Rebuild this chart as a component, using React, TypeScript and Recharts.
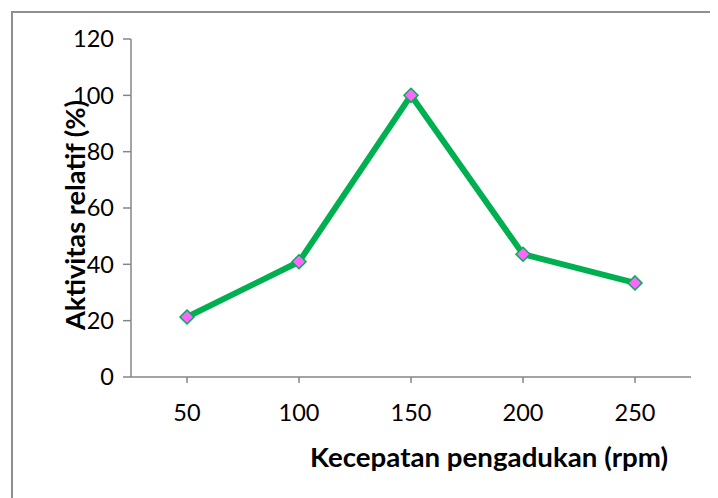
import { LineChart, Line, XAxis, YAxis } from 'recharts';

const speeds = ['50', '100', '150', '200', '250'];
const activity = [21.3, 40.9, 100, 43.6, 33.4];
const yTicks = [0, 20, 40, 60, 80, 100, 120];

const data = speeds.map((rpm, i) => ({ rpm, value: activity[i] }));

const FONT = 'Lato, "Open Sans", sans-serif';
const AXIS_GREY = '#868686';

// pink diamond marker with a green rim
const Diamond = (props: any) => {
  const { cx, cy } = props;
  if (cx == null || cy == null) return null;
  const r = 7;
  return (
    <polygon
      points={`${cx},${cy - r} ${cx + r},${cy} ${cx},${cy + r} ${cx - r},${cy}`}
      fill="#FF66FF"
      stroke="#00B050"
      strokeWidth={1.5}
    />
  );
};

// axis titles sit at fixed spots, Excel style
const YTitle = () => (
  <text
    x={67}
    y={207}
    transform="rotate(-90, 67, 207)"
    textAnchor="middle"
    dominantBaseline="central"
    fontFamily={FONT}
    fontWeight="bold"
    fontSize={26}
    textLength={230}
    lengthAdjust="spacingAndGlyphs"
    fill="#000"
  >
    Aktivitas relatif (%)
  </text>
);

const XTitle = () => (
  <text
    x={660}
    y={459}
    textAnchor="end"
    fontFamily={FONT}
    fontWeight="bold"
    fontSize={26}
    textLength={358}
    lengthAdjust="spacingAndGlyphs"
    fill="#000"
  >
    Kecepatan pengadukan (rpm)
  </text>
);

export default function App() {
  return (
    <div style={{ position: 'relative', width: 710, height: 490, overflow: 'hidden', background: '#fff' }}>
      <div
        style={{
          position: 'absolute',
          left: 3,
          top: 3,
          width: 800,
          height: 600,
          border: '2px solid #8f8f8f',
          boxSizing: 'border-box',
        }}
      />
      <LineChart
        width={710}
        height={490}
        data={data}
        margin={{ top: 31, right: 27, left: 0, bottom: 0 }}
        style={{ position: 'absolute', left: 0, top: 0 }}
      >
        <XAxis
          dataKey="rpm"
          height={121}
          padding={{ left: 56, right: 56 }}
          tickSize={6}
          tickMargin={21}
          axisLine={{ stroke: AXIS_GREY, strokeWidth: 1.5 }}
          tickLine={{ stroke: AXIS_GREY, strokeWidth: 1.5 }}
          tick={{ fill: '#000', fontSize: 23.5, fontFamily: FONT }}
          label={<XTitle />}
        />
        <YAxis
          width={123}
          domain={[0, 120]}
          ticks={yTicks}
          tickSize={8}
          tickMargin={9}
          axisLine={{ stroke: AXIS_GREY, strokeWidth: 1.5 }}
          tickLine={{ stroke: AXIS_GREY, strokeWidth: 1.5 }}
          tick={{ fill: '#000', fontSize: 23.5, fontFamily: FONT }}
          label={<YTitle />}
        />
        <Line
          type="linear"
          dataKey="value"
          stroke="#00B050"
          strokeWidth={6}
          dot={<Diamond />}
          activeDot={false}
          isAnimationActive={false}
        />
      </LineChart>
    </div>
  );
}
